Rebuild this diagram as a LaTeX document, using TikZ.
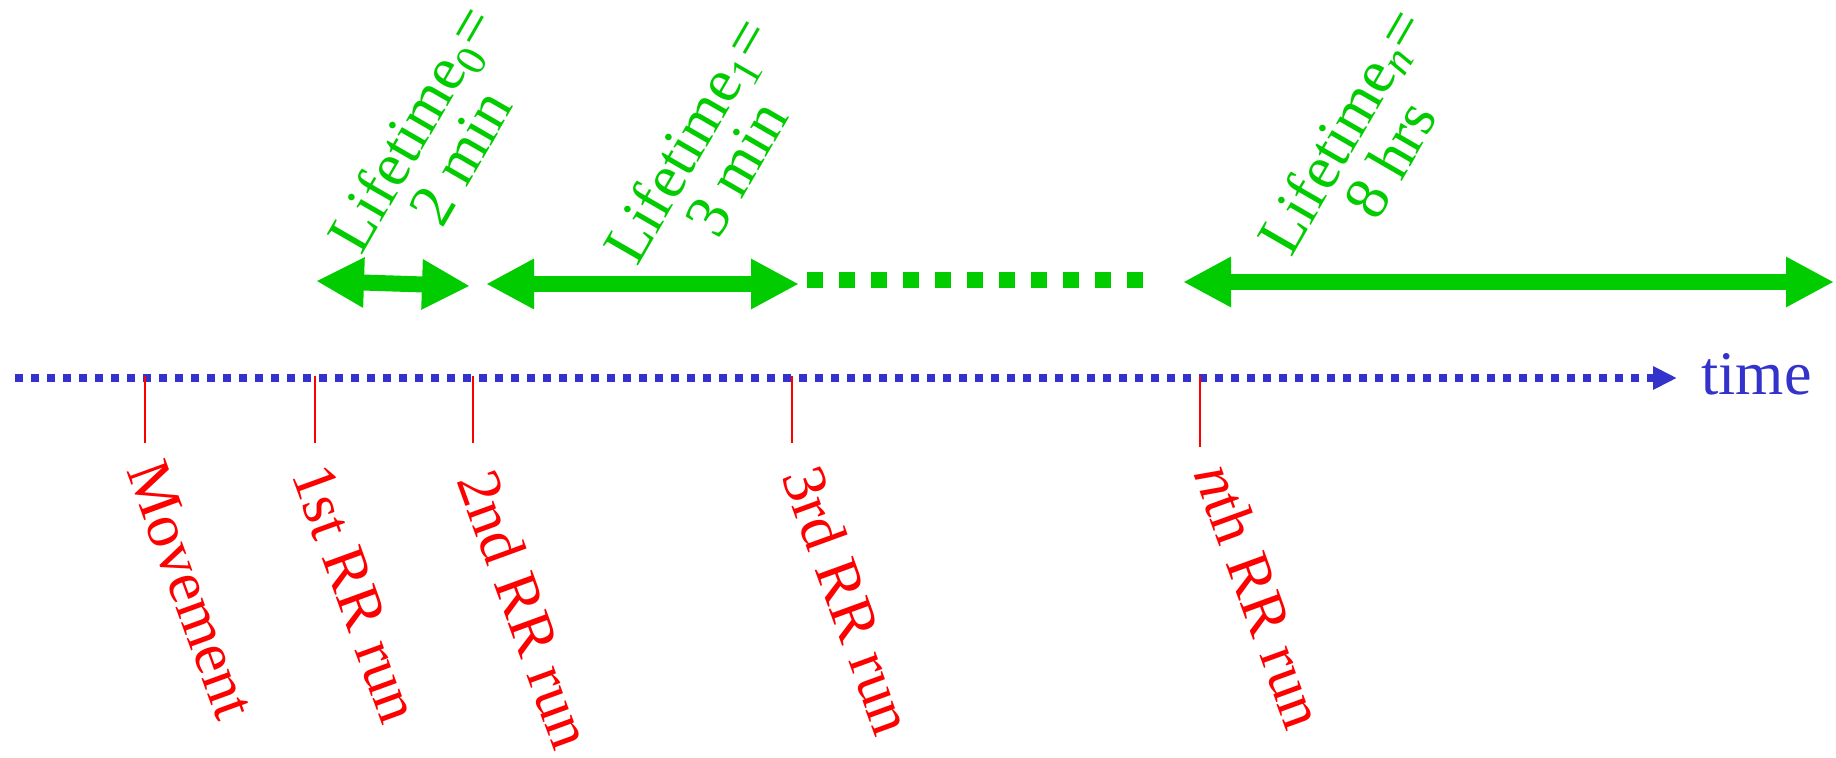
\documentclass[tikz,border=0pt]{standalone}
\usepackage{fontspec}
\setmainfont{Liberation Serif}
\usetikzlibrary{arrows.meta}
\definecolor{axisblue}{RGB}{51,51,204}
\definecolor{lifegreen}{RGB}{0,204,0}
\definecolor{runred}{RGB}{255,0,0}
\begin{document}
\begin{tikzpicture}[x=0.5pt,y=-0.5pt,
  bigfont/.style={font=\fontsize{31}{28.5}\selectfont},
  runlabel/.style={bigfont, text=runred, rotate=-70, anchor=base west, inner sep=0pt},
  lifelabel/.style={bigfont, text=lifegreen, rotate=60, align=center, inner sep=0pt, anchor=center},
  tickline/.style={draw=runred, line width=1pt},
  lifearrow/.style={draw=lifegreen, line width=8pt,
    {Triangle[length=24pt,width=23.5pt]}-{Triangle[length=24pt,width=23.5pt]}},
  lifedots/.style={draw=lifegreen, line width=8pt, dash pattern=on 8pt off 8pt},
  timeaxis/.style={draw=axisblue, line width=4pt, dash pattern=on 4pt off 4pt,
    -{Triangle[length=12pt,width=11pt]}}
]
\useasboundingbox (0,0) rectangle (1836,758);

% time axis
\coordinate (axstart) at (15,378);
\coordinate (axend) at (1677,378);
\draw[timeaxis] (axstart) -- (axend);
\node[bigfont, text=axisblue, anchor=base west, inner sep=0pt] (timelbl) at (1701,395) {time};

% ticks
\coordinate (t0a) at (145,376); \coordinate (t0b) at (145,443);
\coordinate (t1a) at (315,376); \coordinate (t1b) at (315,443);
\coordinate (t2a) at (473,376); \coordinate (t2b) at (473,443);
\coordinate (t3a) at (792,376); \coordinate (t3b) at (792,443);
\coordinate (tna) at (1200,376); \coordinate (tnb) at (1200,447);
\draw[tickline] (t0a) -- (t0b);
\draw[tickline] (t1a) -- (t1b);
\draw[tickline] (t2a) -- (t2b);
\draw[tickline] (t3a) -- (t3b);
\draw[tickline] (tna) -- (tnb);

% run labels
\node[runlabel] (mv) at (126,470) {Movement};
\node[runlabel] (r1) at (291,474) {1st RR run};
\node[runlabel] (r2) at (456,480) {2nd RR run};
\node[runlabel] (r3) at (781,476) {3rd RR run};
\node[runlabel] (rn) at (1193,473) {\textit{n}th RR run};

% lifetime arrows
\coordinate (a0l) at (316,281); \coordinate (a0r) at (470,286);
\coordinate (a1l) at (486,284); \coordinate (a1r) at (799,284);
\coordinate (anl) at (1183,282); \coordinate (anr) at (1834,282);
\draw[lifearrow] (a0l) -- (a0r);
\draw[lifearrow] (a1l) -- (a1r);
\draw[lifearrow] (anl) -- (anr);
\coordinate (d0) at (807,280); \coordinate (d1) at (1143,280);
\draw[lifedots] (d0) -- (d1);

% lifetime labels
\node[lifelabel] (l0) at (435,142) {Lifetime\textsubscript{0}=\\2 min};
\node[lifelabel] (l1) at (711,154) {Lifetime\textsubscript{1}=\\3 min};
\node[lifelabel] (ln) at (1365,145) {Lifetime\textsubscript{\textit{n}}=\\8 hrs};
\end{tikzpicture}
\end{document}
